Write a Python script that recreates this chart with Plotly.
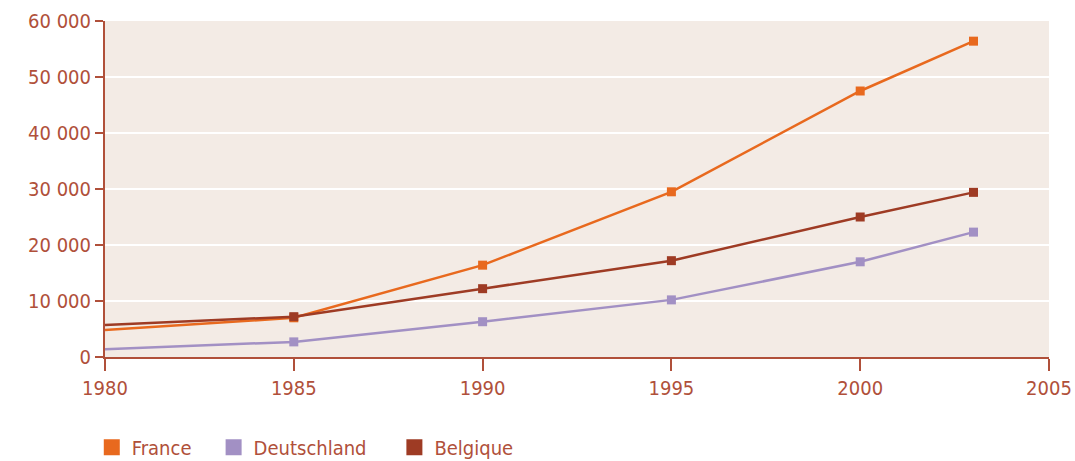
import plotly.graph_objects as go

# values
years = [1980, 1985, 1990, 1995, 2000, 2003]
france = [4800, 7000, 16400, 29500, 47500, 56400]
deutschland = [1400, 2700, 6300, 10200, 17000, 22300]
belgique = [5700, 7200, 12200, 17200, 25000, 29400]

series = [
    ("France", france, "#E8691E"),
    ("Deutschland", deutschland, "#A290C4"),
    ("Belgique", belgique, "#9E3B24"),
]

txt = "#B0503A"
font = "DejaVu Sans Condensed, Liberation Sans Narrow, sans-serif"
pads = ["\u00a0" * 3, "\u00a0" * 4, ""]  # extra room between legend entries

fig = go.Figure()

# draw Belgique last so it sits on top like in the source
for name, vals, col in [series[1], series[0], series[2]]:
    fig.add_trace(go.Scatter(
        x=years, y=vals, mode="lines+markers", name=name,
        line=dict(color=col, width=2.5),
        marker=dict(symbol="square", size=[0] + [9] * (len(years) - 1), color=col,
                    opacity=1, line=dict(width=0)),
        showlegend=False,
    ))

# legend entries: plain squares
for (name, vals, col), pad in zip(series, pads):
    fig.add_trace(go.Scatter(
        x=[None], y=[None], mode="markers", name=name + pad,
        marker=dict(symbol="square", size=17, color=col, line=dict(width=0)),
    ))

fig.update_xaxes(
    range=[1980, 2005], tickvals=[1980, 1985, 1990, 1995, 2000, 2005],
    showgrid=False, showline=True, linecolor=txt, linewidth=2,
    ticks="outside", ticklen=12, tickwidth=2, tickcolor=txt,
    tickfont=dict(color=txt, size=20, family=font), zeroline=False,
    automargin=False,
)
fig.update_yaxes(
    range=[0, 60000], dtick=10000, tickformat=",d",
    showgrid=True, gridcolor="white", gridwidth=1.5,
    showline=True, linecolor=txt, linewidth=2,
    ticks="outside", ticklen=8, tickwidth=2, tickcolor=txt,
    tickfont=dict(color=txt, size=20, family=font), zeroline=False,
    automargin=False,
)

fig.update_layout(
    width=1075, height=461,
    margin=dict(l=105, r=26, t=21, b=104),
    plot_bgcolor="#F3EBE5", paper_bgcolor="white",
    separators=", ",
    font=dict(family=font, color=txt, size=20),
    legend=dict(orientation="h", x=-0.014, y=0.03, xanchor="left", yanchor="middle",
                yref="container",
                font=dict(size=20, color=txt, family=font),
                itemwidth=30, tracegroupgap=0),
)

# drop the default page margin so the figure fills the window exactly
fig.write_html("out.html", config={"displayModeBar": False},
               post_script="document.body.style.margin='0';document.body.style.overflow='hidden';")
